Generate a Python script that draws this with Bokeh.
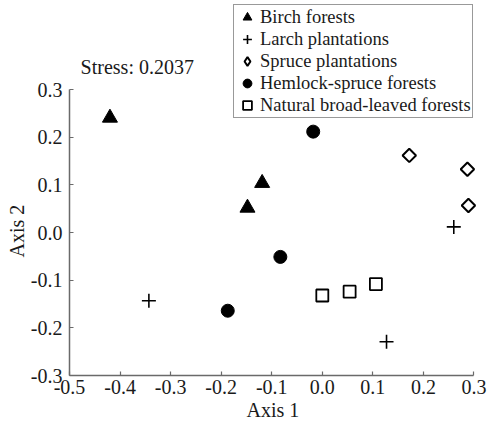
import math
from bokeh.plotting import figure
from bokeh.models import Range1d, FixedTicker, Legend, LegendItem, Label, Title
from bokeh.embed import file_html
from bokeh.resources import INLINE

# ---- data ----
birch_x = [-0.420, -0.119, -0.148]
birch_y = [0.241, 0.104, 0.052]
larch_x = [-0.343, 0.127, 0.260]
larch_y = [-0.143, -0.229, 0.012]
spruce_x = [0.172, 0.287, 0.289]
spruce_y = [0.162, 0.133, 0.057]
hemlock_x = [-0.018, -0.083, -0.187]
hemlock_y = [0.212, -0.051, -0.164]
broad_x = [0.000, 0.054, 0.106]
broad_y = [-0.132, -0.124, -0.108]

x_ticks = [-0.5, -0.4, -0.3, -0.2, -0.1, 0.0, 0.1, 0.2, 0.3]
x_tick_labels = ["-0.5", "-0.4", "-0.3", "-0.2", "-0.1", "0.0", "0.1", "0.2", "0.3"]
y_ticks = [-0.3, -0.2, -0.1, 0.0, 0.1, 0.2, 0.3]
y_tick_labels = ["-0.3", "-0.2", "-0.1", "0.0", "0.1", "0.2", "0.3"]
series_names = ["Birch forests", "Larch plantations", "Spruce plantations",
                "Hemlock-spruce forests", "Natural broad-leaved forests"]
stress_text = "Stress: 0.2037"
x_label = "Axis 1"
y_label = "Axis 2"

FONT = "Liberation Serif"
TXT = "#1a1a1a"
AX = "#6a6a6a"

# frame extends to the top/right edge so that the legend and stress note are not clipped;
# axis lines are limited to the data bounds.
p = figure(width=487, height=436, output_backend="svg", toolbar_location=None,
           x_range=Range1d(-0.5, 0.3267), y_range=Range1d(-0.3, 0.4873),
           min_border_left=69, min_border_right=0, min_border_top=0, min_border_bottom=61)
p.outline_line_color = None
p.grid.visible = False
p.background_fill_color = "white"
p.border_fill_color = "white"

for ax, ticks, labels in ((p.xaxis[0], x_ticks, x_tick_labels),
                          (p.yaxis[0], y_ticks, y_tick_labels)):
    ax.ticker = FixedTicker(ticks=ticks)
    ax.bounds = (ticks[0], ticks[-1])
    ax.major_label_overrides = {t: l for t, l in zip(ticks, labels)}
    ax.axis_line_color = AX
    ax.axis_line_width = 1.5
    ax.major_tick_line_color = AX
    ax.major_tick_line_width = 1.2
    ax.major_tick_in = 4
    ax.major_tick_out = 0
    ax.minor_tick_line_color = None
    ax.major_label_text_font = FONT
    ax.major_label_text_font_size = "20px"
    ax.major_label_text_color = TXT

p.xaxis.major_label_standoff = 4
p.yaxis.major_label_standoff = 7

# axis titles, positioned along the bounded axis lines
xt = Title(text=x_label, align="left", offset=177, text_font=FONT, text_font_size="20px",
           text_font_style="normal", text_color=TXT, standoff=0)
p.add_layout(xt, "below")
yt = Title(text=y_label, align="left", offset=118, text_font=FONT, text_font_size="20px",
           text_font_style="normal", text_color=TXT, standoff=0)
p.add_layout(yt, "left")

r1 = p.scatter(birch_x, birch_y, marker="triangle", size=15, fill_color="black", line_color="black")
r2 = p.scatter(larch_x, larch_y, marker="cross", size=14, line_color="black", line_width=1.6)
r3 = p.scatter(spruce_x, spruce_y, marker="square", angle=math.pi / 4, size=9.5,
               fill_color="white", line_color="black", line_width=2)
r4 = p.scatter(hemlock_x, hemlock_y, marker="circle", size=13, fill_color="black", line_color="black")
r5 = p.scatter(broad_x, broad_y, marker="square", size=12, fill_color="white", line_color="black", line_width=1.8)
# hidden twin of the spruce series, used only for its legend key (legend glyphs are drawn unrotated)
r3_key = p.scatter(spruce_x, spruce_y, marker="diamond", size=14, fill_color="white",
                   line_color="black", line_width=2, visible=False)

legend = Legend(items=[LegendItem(label=n, renderers=[r]) for n, r in
                       zip(series_names, [r1, r2, r3_key, r4, r5])],
                location=(164, 257), orientation="vertical")
legend.label_text_font = FONT
legend.label_text_font_size = "18.5px"
legend.label_text_color = TXT
legend.label_height = 22
legend.glyph_height = 22
legend.glyph_width = 24
legend.label_standoff = 1
legend.spacing = 0
legend.padding = 1
legend.margin = 0
legend.inactive_fill_alpha = 0.0
legend.border_line_color = "#333333"
legend.border_line_width = 1.5
legend.background_fill_color = "white"
legend.background_fill_alpha = 1.0
p.add_layout(legend, "center")

stress = Label(x=-0.478, y=0.348, text=stress_text, text_font=FONT, text_font_size="20px",
               text_color=TXT, text_baseline="middle", text_align="left")
p.add_layout(stress)

open("out.html", "w").write(file_html(p, INLINE))
